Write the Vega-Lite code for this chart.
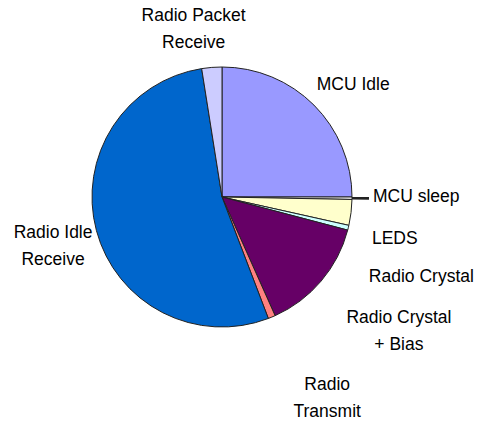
{
  "$schema": "https://vega.github.io/schema/vega-lite/v6.json",
  "width": 444,
  "height": 394,
  "autosize": "none",
  "padding": {"left": 0, "top": 0, "right": 37, "bottom": 34},
  "background": "white",
  "config": {"view": {"stroke": null}, "text": {"font": "Liberation Sans", "fontSize": 17.5, "color": "#000000", "lineBreak": "\n", "lineHeight": 27}},
  "data": {"values": [
    {"idx": 1, "part": "MCU Idle", "label": "MCU Idle", "value": 25.0},
    {"idx": 2, "part": "MCU sleep", "label": "MCU sleep", "value": 0.3},
    {"idx": 3, "part": "LEDS", "label": "LEDS", "value": 3.2},
    {"idx": 4, "part": "Radio Crystal", "label": "Radio Crystal", "value": 0.6},
    {"idx": 5, "part": "Radio Crystal + Bias", "label": "Radio Crystal\n+ Bias", "value": 14.2},
    {"idx": 6, "part": "Radio Transmit", "label": "Radio\nTransmit", "value": 0.9},
    {"idx": 7, "part": "Radio Idle Receive", "label": "Radio Idle\nReceive", "value": 53.3},
    {"idx": 8, "part": "Radio Packet Receive", "label": "Radio Packet\nReceive", "value": 2.5}
  ]},
  "encoding": {
    "theta": {"field": "value", "type": "quantitative", "stack": true},
    "order": {"field": "idx", "type": "quantitative"}
  },
  "layer": [
    {
      "mark": {"type": "arc", "outerRadius": 130, "stroke": "#222", "strokeWidth": 1},
      "encoding": {
        "color": {"field": "part", "type": "nominal", "legend": null,
          "scale": {
            "domain": ["MCU Idle", "MCU sleep", "LEDS", "Radio Crystal", "Radio Crystal + Bias", "Radio Transmit", "Radio Idle Receive", "Radio Packet Receive"],
            "range": ["#9999FF", "#FFFFFF", "#FFFFCC", "#CCFFFF", "#660066", "#FF8080", "#0066CC", "#CCCCFF"]
          }}
      }
    },
    {
      "mark": {"type": "arc", "radius": 147, "radius2": 130, "fill": "#222", "stroke": null},
      "encoding": {"opacity": {"condition": {"test": "datum.part === 'MCU sleep'", "value": 1}, "value": 0}}
    },
    {
      "mark": {"type": "text", "radius": 170, "dx": 11, "dy": 8, "align": "center", "baseline": "middle"},
      "encoding": {"text": {"condition": {"test": "datum.part === 'MCU Idle'", "field": "label"}, "value": ""}}
    },
    {
      "mark": {"type": "text", "radius": 147, "dx": 4, "dy": -1, "align": "left", "baseline": "middle"},
      "encoding": {"text": {"condition": {"test": "datum.part === 'MCU sleep'", "field": "label"}, "value": ""}}
    },
    {
      "mark": {"type": "text", "radius": 147, "dx": 4, "dy": 24, "align": "left", "baseline": "middle"},
      "encoding": {"text": {"condition": {"test": "datum.part === 'LEDS'", "field": "label"}, "value": ""}}
    },
    {
      "mark": {"type": "text", "radius": 147, "dx": 4, "dy": 45, "align": "left", "baseline": "middle"},
      "encoding": {"text": {"condition": {"test": "datum.part === 'Radio Crystal'", "field": "label"}, "value": ""}}
    },
    {
      "mark": {"type": "text", "radius": 215, "dx": 13, "dy": -18, "align": "center", "baseline": "middle"},
      "encoding": {"text": {"condition": {"test": "datum.part === 'Radio Crystal + Bias'", "field": "label"}, "value": ""}}
    },
    {
      "mark": {"type": "text", "radius": 220, "dx": 21, "dy": -15, "align": "center", "baseline": "middle"},
      "encoding": {"text": {"condition": {"test": "datum.part === 'Radio Transmit'", "field": "label"}, "value": ""}}
    },
    {
      "mark": {"type": "text", "radius": 180, "dx": 5, "dy": -10, "align": "center", "baseline": "middle"},
      "encoding": {"text": {"condition": {"test": "datum.part === 'Radio Idle Receive'", "field": "label"}, "value": ""}}
    },
    {
      "mark": {"type": "text", "radius": 170, "dx": -15, "dy": -12, "align": "center", "baseline": "middle"},
      "encoding": {"text": {"condition": {"test": "datum.part === 'Radio Packet Receive'", "field": "label"}, "value": ""}}
    }
  ]
}
